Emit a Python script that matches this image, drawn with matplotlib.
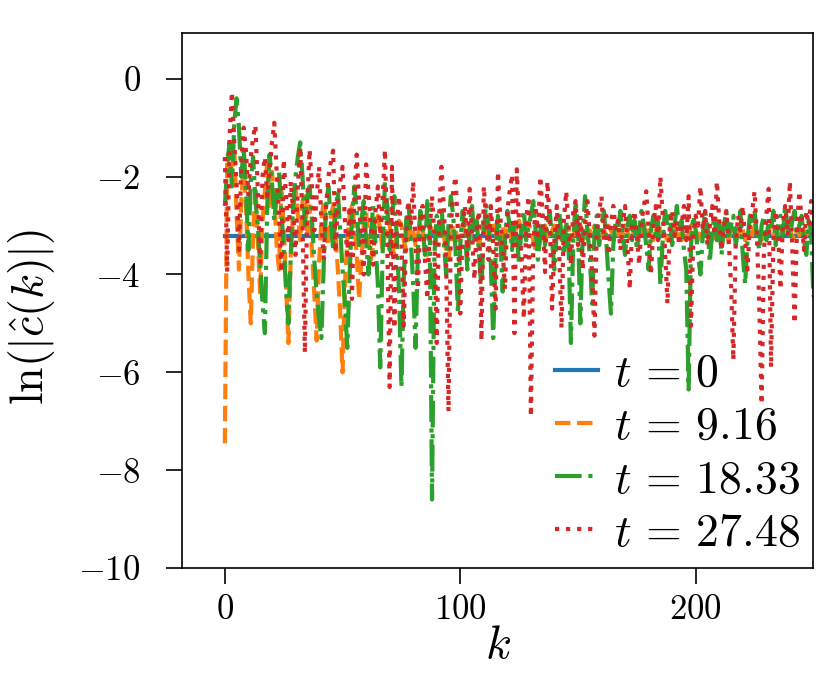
import numpy as np
import matplotlib
matplotlib.use("Agg")
import matplotlib.pyplot as plt
from matplotlib.ticker import FuncFormatter

plt.rcParams['font.family'] = 'serif'
plt.rcParams['font.serif'] = ['cmr10', 'DejaVu Serif']
plt.rcParams['mathtext.fontset'] = 'cm'
plt.rcParams['axes.unicode_minus'] = False

# wavenumbers shown
k = np.arange(251)

labels = [r'$t \,=\, 0$', r'$t \,=\, 9.16$', r'$t \,=\, 18.33$', r'$t \,=\, 27.48$']

# ln|c_hat(k)|
c_t0 = [-3.22] * 251

c_t1 = [
    -7.45, -1.6, -1.45, -2.0, -1.4, -2.8, -3.9, -2.5, -1.7, -2.6,
    -4.0, -5.0, -3.2, -2.2, -3.3, -4.4, -2.9, -2.3, -1.7, -2.6,
    -1.9, -2.4, -3.4, -3.9, -2.3, -3.0, -4.2, -5.4, -3.6, -2.7,
    -2.2, -2.8, -3.3, -2.5, -2.4, -3.1, -2.6, -3.5, -4.4, -5.35,
    -3.8, -2.9, -2.5, -3.0, -3.4, -2.8, -2.6, -3.2, -3.9, -4.8,
    -6.0, -4.2, -3.3, -2.8, -2.6, -3.0, -3.6, -4.5, -3.7, -3.0,
    -2.7, -3.3, -3.7, -3.4, -3.0, -2.8, -3.1, -3.5, -3.2, -2.9,
    -3.0, -3.4, -3.6, -3.1, -2.9, -3.0, -3.3, -3.5, -3.2, -3.0,
    -3.1, -3.4, -3.2, -2.9, -3.1, -3.3, -3.6, -3.2, -3.0, -3.1,
    -3.4, -3.2, -3.0, -3.2, -3.5, -3.7, -3.3, -3.0, -3.1, -3.3,
    -3.2, -3.0, -3.1, -3.4, -3.3, -3.0, -2.9, -3.2, -3.4, -3.1,
    -3.0, -3.2, -3.3, -3.1, -2.9, -3.1, -3.4, -3.3, -3.0, -3.2,
    -3.1, -3.0, -3.3, -3.2, -3.0, -2.9, -3.1, -3.0, -3.0, -2.95,
    -3.1, -3.3, -3.5, -3.55, -3.3, -3.1, -3.0, -3.2, -3.3, -3.1,
    -3.0, -3.2, -3.1, -3.3, -3.2, -3.0, -3.1, -3.3, -3.2, -3.1,
    -3.2, -3.0, -3.1, -3.3, -3.2, -3.1, -3.2, -3.0, -3.1, -3.2,
    -3.3, -3.1, -3.2, -3.0, -3.1, -3.2, -3.3, -3.2, -3.1, -3.2,
    -3.0, -3.1, -3.3, -3.2, -3.1, -3.2, -3.3, -3.1, -3.0, -3.2,
    -3.1, -3.2, -3.3, -3.1, -3.2, -3.0, -3.1, -3.2, -3.3, -3.2,
    -3.1, -3.0, -3.2, -3.1, -3.3, -3.2, -3.1, -3.2, -3.0, -3.1,
    -3.2, -3.3, -3.1, -3.2, -3.1, -3.0, -3.2, -3.3, -3.2, -3.1,
    -3.2, -3.1, -3.0, -3.2, -3.3, -3.1, -3.2, -3.1, -3.2, -3.0,
    -3.1, -3.3, -3.2, -3.1, -3.2, -3.0, -3.1, -3.2, -3.3, -3.1,
    -3.2, -3.1, -3.0, -3.2, -3.1, -3.3, -3.2, -3.1, -3.0, -3.2,
    -3.1, -3.2, -3.3, -3.1, -3.2, -3.0, -3.1, -3.2, -3.1, -3.2,
    -3.2,
]

c_t2 = [
    -2.6, -1.8, -1.3, -2.2, -0.9, -0.4, -1.0, -2.0, -1.4, -2.3,
    -3.5, -2.1, -1.6, -2.5, -3.0, -3.8, -4.6, -5.2, -2.6, -1.55,
    -2.1, -2.9, -2.4, -1.9, -2.7, -3.4, -4.3, -5.0, -3.6, -2.6,
    -2.0, -1.6, -1.3, -2.0, -3.0, -2.4, -2.2, -2.9, -3.7, -4.4,
    -4.9, -5.3, -3.8, -2.6, -2.2, -2.9, -3.5, -2.7, -2.3, -3.1,
    -3.9, -4.6, -5.5, -4.0, -2.8, -2.2, -2.7, -3.4, -2.9, -2.5,
    -3.3, -4.0, -3.2, -2.6, -3.4, -4.2, -5.9, -3.6, -2.1, -2.6,
    -3.5, -2.8, -2.4, -3.2, -4.4, -6.3, -4.1, -2.9, -2.5, -3.3,
    -4.2, -5.5, -3.5, -2.7, -3.0, -3.6, -2.5, -2.7, -8.6, -3.6,
    -2.8, -3.2, -2.6, -3.3, -4.0, -3.0, -2.4, -2.8, -3.5, -4.8,
    -3.4, -2.7, -3.1, -3.9, -3.0, -2.6, -3.3, -2.9, -3.6, -4.3,
    -3.1, -2.55, -3.0, -3.8, -5.3, -3.6, -2.8, -3.2, -4.35, -3.3,
    -2.7, -3.0, -3.5, -2.9, -3.2, -3.8, -3.0, -2.7, -3.3, -3.0,
    -2.8, -2.5, -3.1, -3.7, -3.1, -2.8, -3.4, -3.0, -2.7, -3.3,
    -3.9, -3.1, -2.7, -3.2, -3.6, -2.9, -3.4, -5.4, -3.3, -2.5,
    -3.0, -5.0, -3.2, -2.4, -3.1, -3.6, -4.6, -3.2, -2.8, -3.4,
    -3.0, -2.7, -3.3, -4.1, -4.8, -3.4, -2.9, -3.1, -2.7, -3.2,
    -3.6, -3.0, -2.8, -3.3, -2.9, -3.5, -3.1, -2.7, -3.0, -3.4,
    -3.9, -3.1, -2.8, -3.2, -2.9, -4.2, -3.3, -2.7, -3.0, -2.8,
    -3.4, -3.0, -2.6, -3.1, -2.9, -3.5, -3.9, -6.35, -3.4, -2.8,
    -3.1, -3.6, -4.0, -3.2, -2.7, -3.0, -3.75, -3.1, -2.8, -3.3,
    -2.9, -3.6, -3.0, -2.7, -3.2, -3.0, -2.8, -3.4, -3.1, -2.7,
    -3.6, -4.2, -3.3, -2.8, -3.0, -2.7, -3.2, -3.5, -3.0, -2.8,
    -3.3, -2.9, -3.1, -2.7, -3.4, -3.0, -2.8, -3.2, -2.6, -3.0,
    -3.3, -2.9, -2.7, -3.2, -3.0, -2.8, -3.3, -3.6, -2.9, -3.1,
    -4.45,
]

c_t3 = [
    -1.6, -3.95, -1.2, -0.27, -1.3, -2.2, -3.5, -1.7, -1.0, -1.5,
    -2.4, -1.6, -1.2, -0.95, -2.3, -3.75, -2.0, -1.6, -2.4, -1.9,
    -1.3, -0.9, -1.9, -2.8, -3.95, -1.65, -2.4, -3.3, -2.1, -2.7,
    -3.6, -2.2, -1.4, -3.0, -5.6, -2.5, -1.45, -2.2, -3.1, -2.4,
    -1.8, -2.9, -3.7, -2.6, -2.0, -1.7, -1.47, -3.55, -2.5, -2.1,
    -1.8, -2.9, -3.6, -2.6, -4.5, -2.4, -1.55, -2.5, -3.3, -4.0,
    -1.75, -2.3, -3.0, -3.8, -2.7, -2.2, -3.2, -2.5, -1.45, -3.4,
    -6.3, -1.8, -5.1, -3.0, -2.4, -3.3, -5.05, -3.2, -2.5, -3.0,
    -2.1, -3.4, -4.3, -2.9, -2.6, -3.7, -4.5, -3.1, -2.4, -3.2,
    -5.4, -2.8, -1.8, -2.6, -3.8, -6.8, -3.0, -2.3, -2.0, -3.1,
    -4.8, -3.0, -2.6, -3.6, -2.25, -3.2, -4.1, -3.0, -2.7, -5.35,
    -2.2, -2.9, -3.7, -2.6, -3.4, -4.7, -1.9, -2.8, -3.5, -4.3,
    -2.7, -2.3, -1.96, -5.2, -1.85, -3.0, -3.6, -4.9, -2.9, -2.4,
    -6.9, -3.4, -2.6, -3.2, -2.0, -2.8, -3.95, -2.1, -2.9, -4.7,
    -3.3, -2.6, -3.5, -5.1, -2.9, -2.3, -3.0, -3.8, -2.7, -2.5,
    -3.4, -2.8, -3.9, -3.0, -2.5, -3.2, -4.0, -5.25, -3.1, -2.7,
    -2.4, -3.3, -2.8, -3.6, -3.0, -2.6, -3.1, -2.9, -3.5, -3.0,
    -2.6, -3.4, -4.3, -3.0, -2.7, -3.2, -3.8, -2.9, -2.6, -2.3,
    -3.1, -4.0, -3.0, -2.6, -3.3, -2.0, -2.8, -3.5, -4.6, -3.0,
    -2.7, -3.2, -2.9, -3.4, -3.0, -2.6, -3.3, -2.4, -5.05, -3.2,
    -2.8, -3.0, -2.2, -3.1, -2.7, -3.4, -3.0, -2.6, -3.2, -2.1,
    -2.9, -3.5, -3.0, -2.7, -3.3, -4.2, -5.75, -3.4, -2.8, -3.1,
    -2.6, -3.3, -3.9, -3.0, -2.7, -2.3, -3.2, -4.6, -6.65, -3.5,
    -2.8, -2.25, -5.9, -3.3, -2.7, -3.1, -4.3, -3.0, -2.6, -3.2,
    -2.1, -3.4, -5.0, -3.1, -2.3, -2.9, -3.5, -2.7, -3.0, -2.5,
    -3.2,
]

fig, ax = plt.subplots(figsize=(4.15, 3.46), dpi=200)
fig.subplots_adjust(left=0.219, right=0.98, top=0.952, bottom=0.179)

ax.plot(k, c_t0, '-', label=labels[0])
ax.plot(k, c_t1, '--', label=labels[1])
ax.plot(k, c_t2, '-.', label=labels[2])
ax.plot(k, c_t3, ':', label=labels[3])

ax.set_xlim(-18.3, 250)
ax.set_ylim(-10, 0.93)
ax.set_yticks([0, -2, -4, -6, -8, -10])
ax.set_xticks([0, 100, 200])
fmt = FuncFormatter(lambda v, p: r'$%d$' % int(round(v)))
ax.xaxis.set_major_formatter(fmt)
ax.yaxis.set_major_formatter(fmt)
ax.tick_params(labelsize=12.5, length=5.8, width=0.6)
ax.tick_params(axis='y', pad=9)
for s in ax.spines.values():
    s.set_linewidth(0.6)

ax.set_xlabel(r'$k$', fontsize=17, labelpad=0)
ax.set_ylabel(r'$\ln(|\hat{c}(k)|)$', fontsize=16.5)
ax.yaxis.set_label_coords(-0.198, 0.47)

ax.legend(loc='lower right', frameon=False, fontsize=16.5, handlelength=0.92,
          handletextpad=0.35, labelspacing=0.25, borderaxespad=0.0,
          borderpad=0.3)

fig.savefig('out.png', dpi=200)
